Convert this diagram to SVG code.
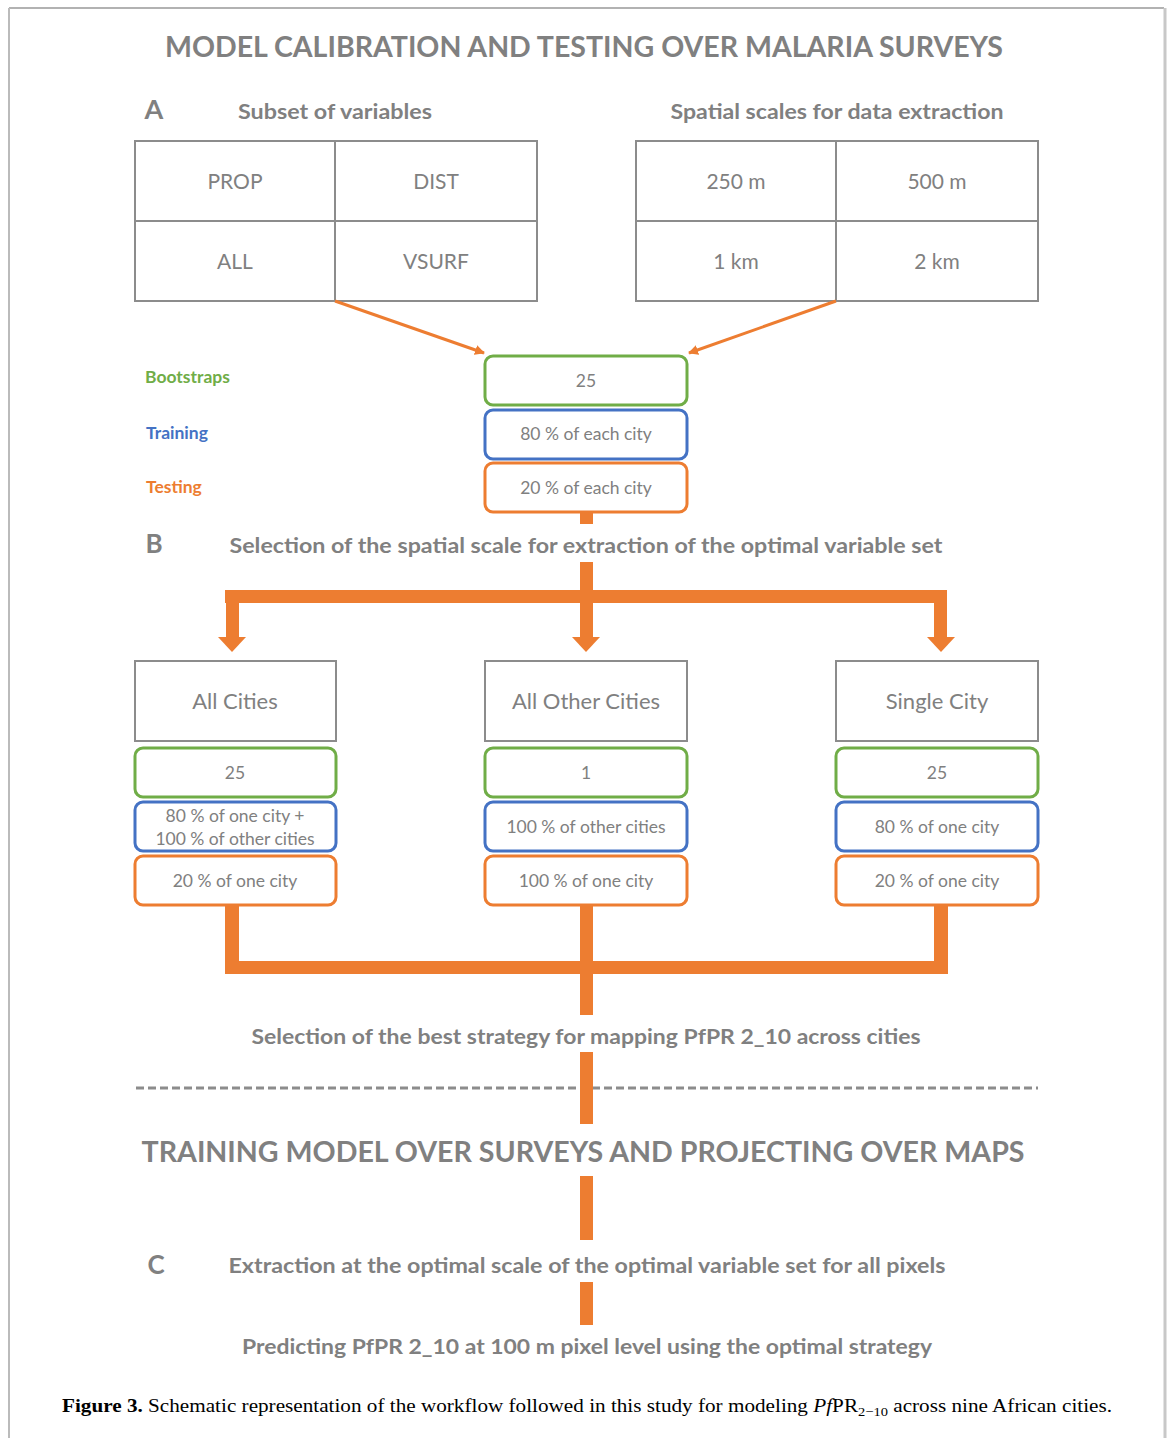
<svg xmlns="http://www.w3.org/2000/svg" width="1171" height="1438" viewBox="0 0 1171 1438">
<defs>
<marker id="ah" markerWidth="10" markerHeight="10" refX="9" refY="5" orient="auto" markerUnits="userSpaceOnUse" viewBox="0 0 10 10">
<path d="M0,0 L10,5 L0,10 z" fill="#ED7D31"/>
</marker>
<style>
.t{font-family:Lato,"Open Sans",sans-serif;fill:#808080;text-anchor:middle}
.b{font-weight:bold}
.cell{fill:#fff;stroke:#8c8c8c;stroke-width:2}
.g{fill:#fff;stroke:#70AD47;stroke-width:3}
.bl{fill:#fff;stroke:#4472C4;stroke-width:3}
.o{fill:#fff;stroke:#ED7D31;stroke-width:3}
.bar{fill:#ED7D31}
.bx{font-size:17.5px}
.hd{font-size:21px}
.lg{font-family:Lato,"Open Sans",sans-serif;font-weight:bold;font-size:17.5px}
</style>
</defs>
<rect width="1171" height="1438" fill="#fff"/>
<g id="frame">
<line x1="9" y1="8" x2="1164" y2="8" stroke="#999" stroke-width="1.5"/>
<line x1="9" y1="8" x2="9" y2="1438" stroke="#bbb" stroke-width="2"/>
<line x1="1165" y1="8" x2="1165" y2="1438" stroke="#c8c8c8" stroke-width="3"/>
</g>

<g id="titles">
<text class="t b" x="584" y="57" font-size="29" textLength="838" lengthAdjust="spacingAndGlyphs">MODEL CALIBRATION AND TESTING OVER MALARIA SURVEYS</text>
<text class="t b" x="154" y="119" font-size="27">A</text>
<text class="t b" x="335" y="119" font-size="21" textLength="194" lengthAdjust="spacingAndGlyphs">Subset of variables</text>
<text class="t b" x="837" y="119" font-size="21" textLength="333" lengthAdjust="spacingAndGlyphs">Spatial scales for data extraction</text>
</g>

<g id="variables">
<rect class="cell" x="135" y="141" width="402" height="160"/>
<line x1="335" y1="141" x2="335" y2="301" stroke="#8c8c8c" stroke-width="2"/>
<line x1="135" y1="221" x2="537" y2="221" stroke="#8c8c8c" stroke-width="2"/>
<text class="t hd" x="235" y="189">PROP</text>
<text class="t hd" x="436" y="189">DIST</text>
<text class="t hd" x="235" y="269">ALL</text>
<text class="t hd" x="436" y="269">VSURF</text>
</g>

<g id="scales">
<rect class="cell" x="636" y="141" width="402" height="160"/>
<line x1="836" y1="141" x2="836" y2="301" stroke="#8c8c8c" stroke-width="2"/>
<line x1="636" y1="221" x2="1038" y2="221" stroke="#8c8c8c" stroke-width="2"/>
<text class="t hd" x="736" y="189">250 m</text>
<text class="t hd" x="937" y="189">500 m</text>
<text class="t hd" x="736" y="269">1 km</text>
<text class="t hd" x="937" y="269">2 km</text>
</g>

<g id="legend">
<text class="lg" x="145" y="383" fill="#70AD47">Bootstraps</text>
<text class="lg" x="146" y="439" fill="#4472C4">Training</text>
<text class="lg" x="146" y="493" fill="#ED7D31">Testing</text>
</g>

<g id="calib">
<rect class="g" x="485" y="356" width="202" height="49" rx="8"/>
<text class="t bx" x="586" y="387">25</text>
<rect class="bl" x="485" y="410" width="202" height="49" rx="8"/>
<text class="t bx" x="586" y="440">80 % of each city</text>
<rect class="o" x="485" y="463" width="202" height="49" rx="8"/>
<text class="t bx" x="586" y="494">20 % of each city</text>
</g>

<g id="sectionB">
<text class="t b" x="154" y="553" font-size="26">B</text>
<text class="t b" x="586" y="553" font-size="21.5" textLength="713" lengthAdjust="spacingAndGlyphs">Selection of the spatial scale for extraction of the optimal variable set</text>
</g>

<g id="allcities">
<rect class="cell" x="135" y="661" width="201" height="80"/>
<text class="t" x="235" y="709" font-size="22">All Cities</text>
<rect class="g" x="135" y="748" width="201" height="49" rx="8"/>
<text class="t bx" x="235" y="779">25</text>
<rect class="bl" x="135" y="802" width="201" height="49" rx="8"/>
<text class="t bx" x="235" y="822">80 % of one city +</text>
<text class="t bx" x="235" y="845">100 % of other cities</text>
<rect class="o" x="135" y="856" width="201" height="49" rx="8"/>
<text class="t bx" x="235" y="887">20 % of one city</text>
</g>

<g id="othercities">
<rect class="cell" x="485" y="661" width="202" height="80"/>
<text class="t" x="586" y="709" font-size="22">All Other Cities</text>
<rect class="g" x="485" y="748" width="202" height="49" rx="8"/>
<text class="t bx" x="586" y="779">1</text>
<rect class="bl" x="485" y="802" width="202" height="49" rx="8"/>
<text class="t bx" x="586" y="833">100 % of other cities</text>
<rect class="o" x="485" y="856" width="202" height="49" rx="8"/>
<text class="t bx" x="586" y="887">100 % of one city</text>
</g>

<g id="singlecity">
<rect class="cell" x="836" y="661" width="202" height="80"/>
<text class="t" x="937" y="709" font-size="22">Single City</text>
<rect class="g" x="836" y="748" width="202" height="49" rx="8"/>
<text class="t bx" x="937" y="779">25</text>
<rect class="bl" x="836" y="802" width="202" height="49" rx="8"/>
<text class="t bx" x="937" y="833">80 % of one city</text>
<rect class="o" x="836" y="856" width="202" height="49" rx="8"/>
<text class="t bx" x="937" y="887">20 % of one city</text>
</g>

<g id="strategy">
<text class="t b" x="586" y="1044" font-size="21.5" textLength="669" lengthAdjust="spacingAndGlyphs">Selection of the best strategy for mapping PfPR 2_10 across cities</text>
</g>

<g id="divider">
<line x1="136" y1="1088" x2="1038" y2="1088" stroke="#8c8c8c" stroke-width="3" stroke-dasharray="8,4"/>
</g>

<g id="part2">
<text class="t b" x="583" y="1162" font-size="29" textLength="883" lengthAdjust="spacingAndGlyphs">TRAINING MODEL OVER SURVEYS AND PROJECTING OVER MAPS</text>
<text class="t b" x="156" y="1274" font-size="26">C</text>
<text class="t b" x="587" y="1273" font-size="21.5" textLength="717" lengthAdjust="spacingAndGlyphs">Extraction at the optimal scale of the optimal variable set for all pixels</text>
<text class="t b" x="587" y="1354" font-size="21.5" textLength="690" lengthAdjust="spacingAndGlyphs">Predicting PfPR 2_10 at 100 m pixel level using the optimal strategy</text>
</g>

<g id="connectors">
<line x1="335" y1="301" x2="484" y2="353" stroke="#ED7D31" stroke-width="3" marker-end="url(#ah)"/>
<line x1="836" y1="301" x2="689" y2="353" stroke="#ED7D31" stroke-width="3" marker-end="url(#ah)"/>
<rect class="bar" x="580" y="512" width="13" height="12"/>
<rect class="bar" x="580" y="562" width="13" height="40"/>
<rect class="bar" x="225" y="590" width="722" height="13"/>
<rect class="bar" x="226" y="590" width="13" height="48"/>
<rect class="bar" x="580" y="590" width="13" height="48"/>
<rect class="bar" x="934" y="590" width="13" height="48"/>
<path class="bar" d="M218,637 L246,637 L232,652 Z"/>
<path class="bar" d="M572,637 L600,637 L586,652 Z"/>
<path class="bar" d="M927,637 L955,637 L941,652 Z"/>
<rect class="bar" x="225" y="905" width="14" height="69"/>
<rect class="bar" x="580" y="905" width="13" height="110"/>
<rect class="bar" x="934" y="905" width="14" height="69"/>
<rect class="bar" x="225" y="961" width="723" height="13"/>
<rect class="bar" x="580" y="1052" width="13" height="72"/>
<rect class="bar" x="580" y="1176" width="13" height="64"/>
<rect class="bar" x="580" y="1282" width="13" height="43"/>
</g>

<g id="caption">
<text x="62" y="1412" font-family="'Liberation Serif',serif" font-size="19" fill="#000" textLength="1050" lengthAdjust="spacingAndGlyphs"><tspan font-weight="bold">Figure 3.</tspan> Schematic representation of the workflow followed in this study for modeling <tspan font-style="italic">Pf</tspan>PR<tspan font-size="13" dy="4">2−10</tspan><tspan dy="-4"> across nine African cities.</tspan></text>
</g>
</svg>
